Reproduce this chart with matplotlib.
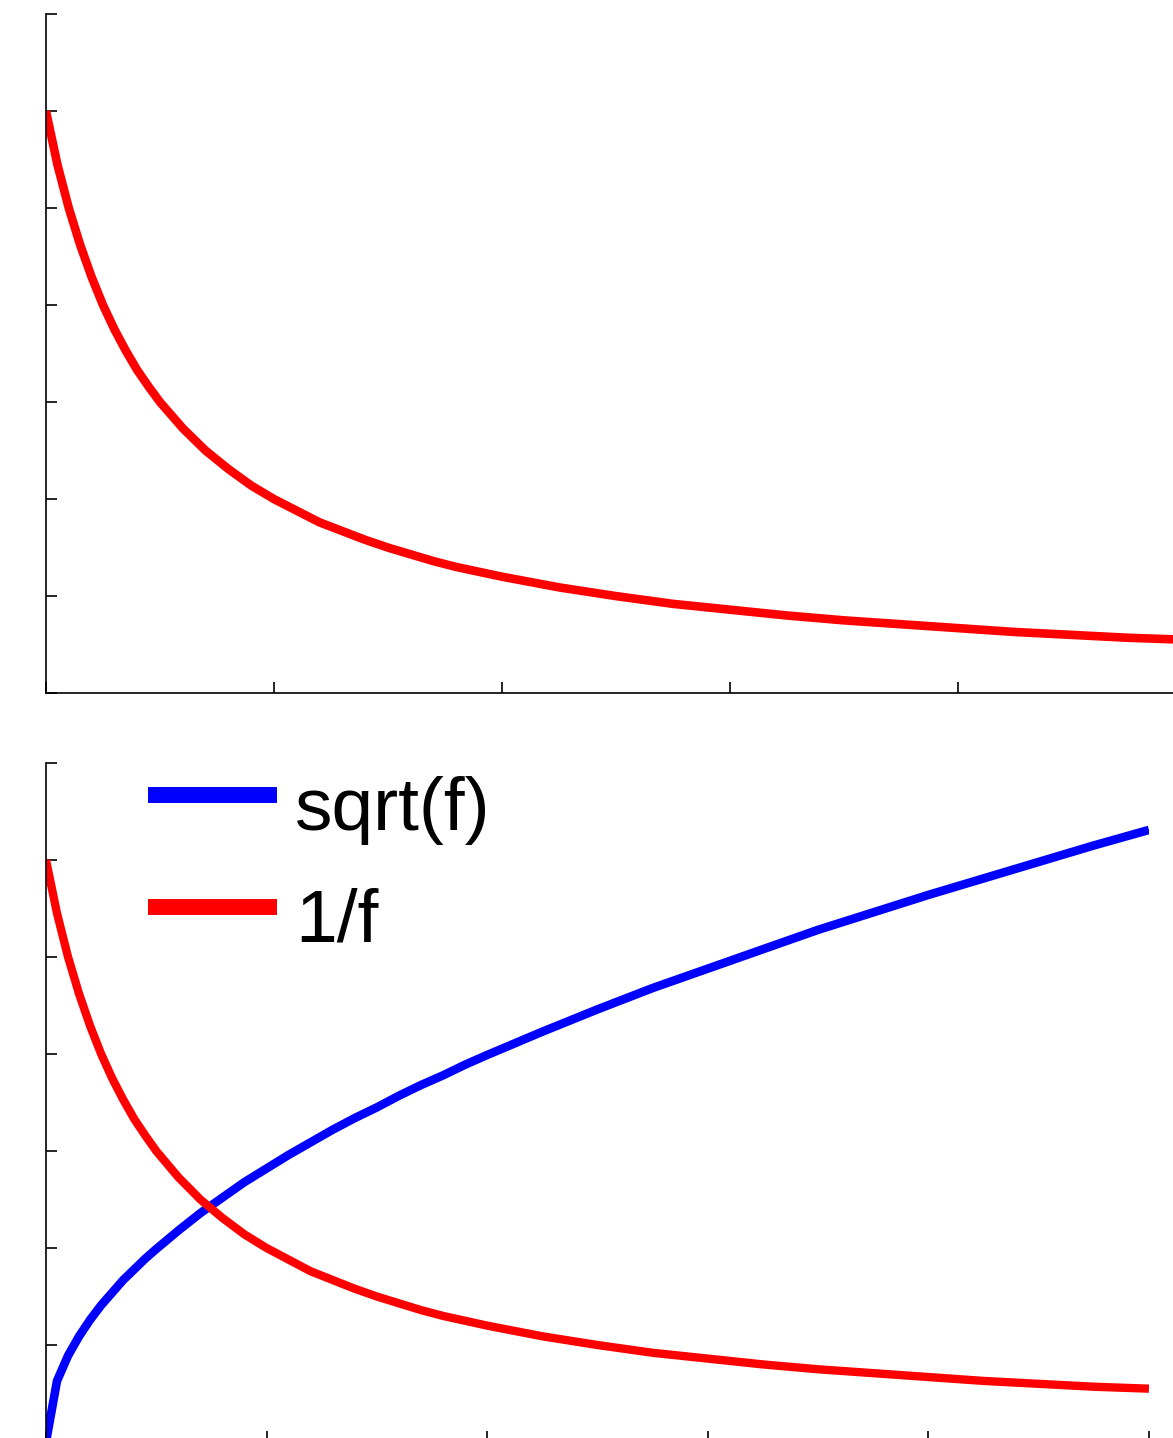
import matplotlib
matplotlib.use("Agg")
import matplotlib.pyplot as plt
from matplotlib.lines import Line2D

# values (x in tick units 0..5, y in tick units 0..7)
f = [0, 0.05, 0.1, 0.15, 0.2, 0.25, 0.3, 0.35, 0.4, 0.45, 0.5, 0.6, 0.7, 0.8,
     0.9, 1.0, 1.1, 1.2, 1.3, 1.4, 1.5, 1.6, 1.7, 1.8, 1.9, 2.0, 2.25, 2.5,
     2.75, 3.0, 3.25, 3.5, 3.75, 4.0, 4.25, 4.5, 4.75, 5.0]
sqrt_f = [0, 0.63, 0.89, 1.09, 1.26, 1.41, 1.54, 1.67, 1.78, 1.89, 1.99, 2.18,
          2.36, 2.52, 2.68, 2.82, 2.96, 3.09, 3.22, 3.34, 3.45, 3.57, 3.68,
          3.78, 3.89, 3.99, 4.23, 4.46, 4.68, 4.88, 5.08, 5.28, 5.46, 5.64,
          5.81, 5.98, 6.15, 6.31]
inv_f = [6.0, 5.45, 5.0, 4.62, 4.29, 4.0, 3.75, 3.53, 3.33, 3.16, 3.0, 2.73,
         2.5, 2.31, 2.14, 2.0, 1.88, 1.76, 1.67, 1.58, 1.5, 1.43, 1.36, 1.30,
         1.25, 1.2, 1.09, 1.0, 0.92, 0.86, 0.80, 0.75, 0.71, 0.67, 0.63, 0.6,
         0.57, 0.55]
labels = ['sqrt(f)', '1/f']
xticks = [0, 1, 2, 3, 4, 5]
yticks = [0, 1, 2, 3, 4, 5, 6, 7]

plt.rcParams['font.family'] = ['Liberation Sans', 'DejaVu Sans']

fig = plt.figure(figsize=(11.73, 14.38), dpi=100)
ax1 = fig.add_axes([0.0392, 0.518, 0.972, 0.4722])
ax2 = fig.add_axes([0.0392, -0.0028, 0.9403, 0.4722])

def style(ax):
    ax.set_xlim(0, 5)
    ax.set_ylim(0, 7)
    ax.set_xticks(xticks)
    ax.set_yticks(yticks)
    ax.set_xticklabels([])
    ax.set_yticklabels([])
    ax.spines['top'].set_visible(False)
    ax.spines['right'].set_visible(False)
    for s in ['left', 'bottom']:
        ax.spines[s].set_linewidth(1.2)
    ax.tick_params(direction='in', length=8, width=1.2)

ax1.plot(f, inv_f, color='red', lw=6.2, solid_capstyle='butt', solid_joinstyle='round')
style(ax1)

ax2.plot(f, sqrt_f, color='blue', lw=6.2, solid_capstyle='butt', solid_joinstyle='round')
ax2.plot(f, inv_f, color='red', lw=6.0, solid_capstyle='butt', solid_joinstyle='round')
style(ax2)

handles = [Line2D([], [], color='blue', lw=11.5, solid_capstyle='butt'),
           Line2D([], [], color='red', lw=11.5, solid_capstyle='butt')]
leg = ax2.legend(handles, labels, loc='upper left', bbox_to_anchor=(0.0928, 0.994),
                 frameon=False, fontsize=54, handlelength=1.72, handletextpad=0.24,
                 labelspacing=0.57, borderpad=0, borderaxespad=0)
# text sits a bit lower than the handle lines in the original
for t in leg.get_texts():
    t.set_position((0, -9))

fig.savefig('out.png', dpi=100)
